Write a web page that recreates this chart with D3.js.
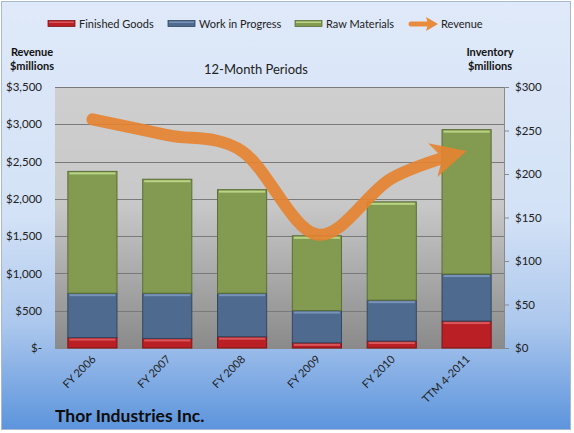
<!DOCTYPE html>
<html>
<head>
<meta charset="utf-8">
<script src="https://cdn.jsdelivr.net/npm/d3@7"></script>
<style>
  body { margin: 0; background: #fff; }
  svg { display: block; font-family: Lato, "Liberation Sans", sans-serif; }
</style>
</head>
<body>
<svg id="chart" width="574" height="433"></svg>
<script>
/* Thor Industries inventory vs revenue */

const periods = ['FY 2006', 'FY 2007', 'FY 2008', 'FY 2009', 'FY 2010', 'TTM 4-2011'];
const finishedGoods = [12, 11, 13, 6, 8, 31];
const workInProgress = [51, 52, 50, 37, 47, 54];
const rawMaterials = [140, 131, 119, 86, 113, 166];
const revenue = [3066, 2856, 2640, 1522, 2277, 2642];

const leftTicks = [0, 500, 1000, 1500, 2000, 2500, 3000, 3500];
const rightTicks = [0, 50, 100, 150, 200, 250, 300];

const svg = d3.select('#chart');
const defs = svg.append('defs');

function vgrad(id, stops) {
  const g = defs.append('linearGradient').attr('id', id)
    .attr('x1', 0).attr('y1', 0).attr('x2', 0).attr('y2', 1);
  stops.forEach(s => g.append('stop').attr('offset', s[0]).attr('stop-color', s[1]));
}
vgrad('bg', [[0, '#dfe9f9'], [0.5, '#d3e2f6'], [0.75, '#adc8ed'], [1, '#5c94dc']]);
vgrad('plotbg', [[0, '#cfcfcf'], [0.45, '#c8c8c8'], [1, '#8a8a8a']]);

const margin = { left: 55, right: 504, top: 87, bottom: 348 };

// chart area
svg.append('rect').attr('x', 1.5).attr('y', 1.5).attr('width', 569).attr('height', 428)
  .attr('fill', 'url(#bg)').attr('stroke', '#a9b9cf');

svg.append('rect').attr('x', margin.left).attr('y', margin.top)
  .attr('width', margin.right - margin.left).attr('height', margin.bottom - margin.top)
  .attr('fill', 'url(#plotbg)');

const x = d3.scaleBand().domain(periods).range([margin.left, margin.right])
  .paddingInner(0.33).paddingOuter(0.165);
const yL = d3.scaleLinear().domain([0, 3500]).range([margin.bottom, margin.top]);
const yR = d3.scaleLinear().domain([0, 300]).range([margin.bottom, margin.top]);

// gridlines from the revenue axis
svg.append('g').selectAll('line').data(leftTicks.slice(1)).join('line')
  .attr('x1', margin.left).attr('x2', margin.right)
  .attr('y1', d => Math.round(yL(d)) + 0.5).attr('y2', d => Math.round(yL(d)) + 0.5)
  .attr('stroke', '#7a7a7a').attr('stroke-width', 1);

// left axis
const leftAxis = d3.axisLeft(yL).tickValues(leftTicks).tickSize(0).tickPadding(13)
  .tickFormat(d => d === 0 ? '$-' : '$' + d3.format(',')(d));
const gl = svg.append('g').attr('transform', `translate(${margin.left},0)`).call(leftAxis);
gl.select('.domain').remove();
gl.selectAll('text').attr('font-size', 11.5).attr('fill', '#222').attr('font-family', 'Lato');

// right axis
const rightAxis = d3.axisRight(yR).tickValues(rightTicks).tickSize(5).tickPadding(6)
  .tickFormat(d => '$' + d);
const gr = svg.append('g').attr('transform', `translate(${margin.right},0)`).call(rightAxis);
gr.select('.domain').attr('stroke', '#8a8a8a');
gr.selectAll('line').attr('stroke', '#8a8a8a');
gr.selectAll('text').attr('font-size', 11.5).attr('fill', '#222').attr('font-family', 'Lato');

// bottom axis line
svg.append('line').attr('x1', margin.left).attr('x2', margin.right)
  .attr('y1', margin.bottom + 0.5).attr('y2', margin.bottom + 0.5).attr('stroke', '#8a8a8a');

// stacked bars
const seriesKeys = ['fg', 'wip', 'rm'];
const seriesStyle = {
  fg: { fill: '#b91f24', top: '#d9575b', edge: '#7e1518' },
  wip: { fill: '#4e6a8f', top: '#7793b8', edge: '#34475f' },
  rm: { fill: '#839b51', top: '#b9d484', edge: '#5c6e38' }
};
const rows = periods.map((p, i) => ({ period: p, fg: finishedGoods[i], wip: workInProgress[i], rm: rawMaterials[i] }));
const stacked = d3.stack().keys(seriesKeys)(rows);

stacked.forEach(layer => {
  const st = seriesStyle[layer.key];
  const g = svg.append('g');
  g.selectAll('rect.bar').data(layer).join('rect').attr('class', 'bar')
    .attr('x', d => x(d.data.period) + 0.5)
    .attr('y', d => yR(d[1]))
    .attr('width', x.bandwidth() - 1)
    .attr('height', d => yR(d[0]) - yR(d[1]))
    .attr('fill', st.fill).attr('stroke', st.edge).attr('stroke-width', 1);
  g.selectAll('rect.hi').data(layer).join('rect').attr('class', 'hi')
    .attr('x', d => x(d.data.period) + 2)
    .attr('y', d => yR(d[1]) + 1)
    .attr('width', x.bandwidth() - 4)
    .attr('height', 2)
    .attr('fill', st.top);
});

// revenue line with arrow head
const pts = revenue.map((v, i) => [x(periods[i]) + x.bandwidth() / 2, yL(v)]);
const revG = svg.append('g').attr('opacity', 0.9);
const path = revG.append('path')
  .attr('d', d3.line().curve(d3.curveCardinal.tension(0))(pts))
  .attr('fill', 'none').attr('stroke', '#e6832f').attr('stroke-width', 12)
  .attr('stroke-linecap', 'round');
const L = path.node().getTotalLength();
path.attr('stroke-dasharray', `${L - 20} ${L}`);
const tip = pts[pts.length - 1];
const back = path.node().getPointAtLength(L - 3);
let dx = tip[0] - back.x, dy = tip[1] - back.y;
const len = Math.hypot(dx, dy); dx /= len; dy /= len;
const ah = 35, aw = 17.5, notch = 10;
const arrowPts = [
  tip,
  [tip[0] - dx * ah - dy * aw, tip[1] - dy * ah + dx * aw],
  [tip[0] - dx * (ah - notch), tip[1] - dy * (ah - notch)],
  [tip[0] - dx * ah + dy * aw, tip[1] - dy * ah - dx * aw]
];
revG.append('polygon').attr('points', arrowPts.map(p => p.join(',')).join(' '))
  .attr('fill', '#e6832f');

// x labels
svg.append('g').selectAll('text').data(periods).join('text')
  .attr('transform', d => `translate(${x(d) + x.bandwidth() / 2 + 4},${margin.bottom + 12}) rotate(-45)`)
  .attr('text-anchor', 'end').attr('font-size', 11).attr('fill', '#222')
  .text(d => d);

// titles
svg.append('text').attr('x', 256).attr('y', 74).attr('text-anchor', 'middle')
  .attr('font-size', 13).attr('fill', '#222').text('12-Month Periods');
svg.append('text').attr('x', 32).attr('y', 56).attr('text-anchor', 'middle')
  .attr('font-size', 11).attr('font-weight', 'bold').attr('fill', '#111').text('Revenue');
svg.append('text').attr('x', 32).attr('y', 70).attr('text-anchor', 'middle')
  .attr('font-size', 11).attr('font-weight', 'bold').attr('fill', '#111').text('$millions');
svg.append('text').attr('x', 490).attr('y', 56).attr('text-anchor', 'middle')
  .attr('font-size', 11).attr('font-weight', 'bold').attr('fill', '#111').text('Inventory');
svg.append('text').attr('x', 490).attr('y', 70).attr('text-anchor', 'middle')
  .attr('font-size', 11).attr('font-weight', 'bold').attr('fill', '#111').text('$millions');
svg.append('text').attr('x', 55).attr('y', 422)
  .attr('font-size', 17.5).attr('font-weight', 'bold').attr('fill', '#0d0d0d').text('Thor Industries Inc.');

// legend
const legendItems = [
  { label: 'Finished Goods', key: 'fg', x: 48 },
  { label: 'Work in Progress', key: 'wip', x: 168 },
  { label: 'Raw Materials', key: 'rm', x: 295 }
];
const lg = svg.append('g');
legendItems.forEach(it => {
  const st = seriesStyle[it.key];
  lg.append('rect').attr('x', it.x).attr('y', 20.5).attr('width', 27).attr('height', 6)
    .attr('fill', st.fill).attr('stroke', st.edge).attr('stroke-width', 0.8);
  lg.append('rect').attr('x', it.x + 1).attr('y', 21.5).attr('width', 25).attr('height', 1.5)
    .attr('fill', st.top);
  lg.append('text').attr('x', it.x + 31).attr('y', 28).attr('font-size', 11).attr('fill', '#222')
    .text(it.label);
});
lg.append('line').attr('x1', 411).attr('x2', 428).attr('y1', 24).attr('y2', 24)
  .attr('stroke', '#e98b3c').attr('stroke-width', 5).attr('stroke-linecap', 'round');
lg.append('polygon').attr('points', '426,17 438,24 426,31 428,24').attr('fill', '#e98b3c');
lg.append('text').attr('x', 441).attr('y', 28).attr('font-size', 11).attr('fill', '#222').text('Revenue');
</script>
</body>
</html>
